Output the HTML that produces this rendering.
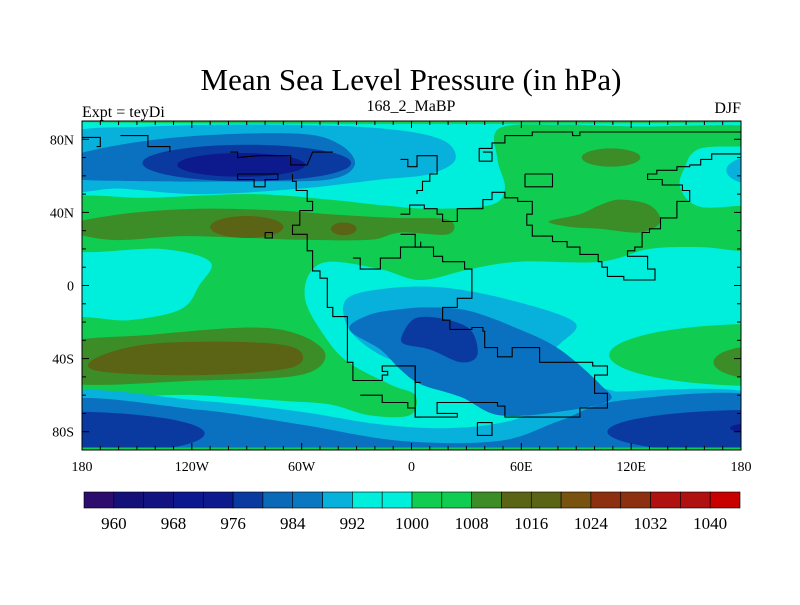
<!DOCTYPE html>
<html><head><meta charset="utf-8">
<style>
html,body{margin:0;padding:0;background:#fff;}
body{width:800px;height:600px;overflow:hidden;font-family:"Liberation Serif",serif;}
svg text{font-family:"Liberation Serif",serif;fill:#000;}
</style></head>
<body>
<svg id="chart" width="800" height="600" viewBox="0 0 800 600" xmlns="http://www.w3.org/2000/svg">
<text x="411" y="90" font-size="31" text-anchor="middle">Mean Sea Level Pressure (in hPa)</text>
<text x="82" y="117" font-size="16">Expt = teyDi</text>
<text x="411" y="111" font-size="16" text-anchor="middle">168_2_MaBP</text>
<text x="741" y="113" font-size="16" text-anchor="end">DJF</text>
<defs><clipPath id="pc"><rect x="82" y="121" width="659" height="329"/></clipPath></defs>
<g id="fields" clip-path="url(#pc)"></g>
<g id="coast" clip-path="url(#pc)"></g>
<rect x="82" y="121" width="659" height="329" fill="none" stroke="#000" stroke-width="1"/>
<g id="axes"></g>
<g id="cbar"></g>
</svg>
<script>
// axis ranges
const lonMin=-180, lonMax=180, latMin=-90, latMax=90;
const xTickVals=[-180,-120,-60,0,60,120,180];
const xTickLabels=['180','120W','60W','0','60E','120E','180'];
const yTickVals=[80,40,0,-40,-80];
const yTickLabels=['80N','40N','0','40S','80S'];
// colorbar
const cbLevels=[960,964,968,972,976,980,984,988,992,996,1000,1004,1008,1012,1016,1020,1024,1028,1032,1036,1040];
const cbColors=['#2c0c6c','#14107a','#121280','#0c1890','#0c1a8e','#0a3aa0','#0a6ab8','#0a78c0','#08b0dc','#00eedc','#00eedc','#10cc50','#10cc50','#3c8c28','#5a6414','#5a6414','#7a5210','#8c3010','#8c3010','#b01010','#b01010','#c80000'];
const cbLabelVals=[960,968,976,984,992,1000,1008,1016,1024,1032,1040];
// contour regions (lon,lat polygons), fill bands
const fieldBase='#00eedc';
const greenRegions=[
 [[-190,47],[-143,48],[-88,50],[-45,47],[-17,44],[10,42],[43,44],[51,53],[47,69],[48,86],[81,88],[125,87],[190,87],[190,77],[158,75],[149,64],[147,53],[158,43],[190,42],[190,20],[158,21],[130,20],[103,13],[59,13],[32,9],[5,3],[-17,9],[-45,13],[-56,6],[-58,-8],[-50,-24],[-36,-41],[-12,-54],[2,-60],[-1,-71],[-23,-71],[-45,-65],[-72,-63],[-116,-60],[-190,-57],[-190,-20],[-154,-19],[-126,-13],[-116,0],[-110,13],[-137,20],[-190,20]]
];
const greenEllipses=[[190,-38,82,17],[0,90,200,1.5]];
const oliveRegions=[
 [[-190,32],[-159,39],[-116,42],[-72,41],[-45,39],[-10,37],[20,36],[20,28],[-6,29],[-23,25],[-61,25],[-88,26],[-126,27],[-165,25]],
 [[75,35],[92,39],[103,44],[114,47],[130,44],[136,35],[125,29],[103,31],[87,32]],
 [[-190,-32],[-143,-27],[-88,-23],[-61,-27],[-47,-38],[-61,-49],[-116,-52],[-190,-53]]
];
const oliveEllipses=[[109,70,16,5],[190,-42,25,9]];
const brownRegions=[[[-173,-40],[-143,-32],[-88,-31],[-62,-35],[-66,-45],[-116,-49],[-170,-47]]];
const brownEllipses=[[-90,32,20,6],[-37,31,7,3.5]];
const blue1Regions=[
 [[-190,82],[-143,87],[-72,88],[-17,86],[16,80],[24,69],[10,61],[-17,58],[-61,53],[-116,50],[-159,53],[-190,53]],
 [[-190,-59],[-116,-63],[-61,-69],[-17,-76],[21,-78],[54,-74],[81,-63],[114,-58],[190,-60],[190,-95],[-190,-95]],
 [[-36,-8],[-17,-2],[16,-1],[54,-8],[89,-20],[81,-32],[70,-41],[98,-54],[114,-60],[81,-65],[59,-63],[32,-50],[5,-45],[-17,-38],[-34,-24]]
];
const blue1Ellipses=[[190,63,18,8]];
const blue2Regions=[
 [[-190,69],[-159,77],[-116,82],[-61,83],[-39,77],[-31,66],[-45,58],[-88,57],[-143,57],[-190,59]],
 [[-34,-24],[-23,-16],[-6,-13],[10,-12],[32,-14],[59,-24],[81,-35],[103,-54],[108,-63],[81,-69],[48,-71],[27,-61],[5,-54],[-6,-46],[-17,-35]],
 [[-190,-63],[-116,-68],[-61,-76],[-6,-85],[48,-85],[81,-74],[114,-63],[190,-61],[190,-95],[-190,-95]]
];
const blue2Ellipses=[];
const blue3Regions=[[[-5,-27],[2,-18],[16,-18],[32,-24],[36,-38],[27,-42],[10,-35],[-4,-32]]];
const blue3Ellipses=[[-90,67,57,10],[-190,-81,77,12],[190,-80,83,12]];
const blue4Ellipses=[[-93,66,35,6.5],[190,-78,16,3],[-190,-79,8,2]];
const bandColors={green:'#10cc50',olive:'#3c8c28',brown:'#5a6414',b1:'#08b0dc',b2:'#0a70c0',b3:'#0a3aa0',b4:'#0c1a8e'};
// coastlines (lon,lat)
const coastLines=[
 [[-99,73],[-95,73],[-95,70],[-84,71],[-66,71],[-66,66],[-57,66],[-54,73],[-43,73]],
 [[-65,61],[-65,57],[-63,57],[-63,52],[-57,52],[-57,46],[-54,46],[-54,41],[-61,41],[-61,33],[-65,33],[-65,28],[-57,28],[-57,19],[-54,19],[-54,8],[-50,8],[-50,4],[-46,4],[-46,-12],[-43,-12],[-43,-17],[-35,-17],[-35,-42],[-32,-42],[-32,-52],[-16,-52],[-16,-49],[-13,-49],[-13,-47],[-16,-47],[-16,-44],[2,-44],[2,-53],[5,-53]],
 [[-28,-60],[-16,-60],[-16,-64],[-2,-64],[-2,-67],[2,-67],[2,-72],[5,-72]],
 [[33,3],[33,-7],[25,-7],[25,-12],[17,-12],[17,-19],[21,-19],[21,-24],[33,-24],[33,-23],[39,-23],[39,-25],[40,-25],[40,-34],[47,-34],[47,-39],[55,-39],[55,-34],[70,-34],[70,-42],[99,-42],[99,-44],[107,-44],[107,-49],[100,-49],[100,-59],[107,-59],[107,-67],[92,-67],[92,-72],[51,-72],[51,-66],[47,-66],[47,-64],[17,-64],[14,-64],[14,-70],[25,-70],[25,-72],[2,-72],[2,-44],[-6,-44]],
 [[36,-75],[44,-75],[44,-82],[36,-82],[36,-75]],
 [[-6,39],[-1,39],[-1,44],[7,44],[7,42],[14,42],[14,39],[17,39],[17,35],[25,35],[25,42],[39,42],[39,47],[44,47],[44,51],[51,51],[51,48],[58,48],[58,46],[66,46],[66,39],[63,39],[63,33],[66,33],[66,27],[77,27],[77,24],[85,24],[85,21],[92,21],[92,17],[102,17],[102,13],[104,13],[104,10],[107,10],[107,5],[116,5],[116,3],[133,3],[133,9],[129,9],[129,16],[118,16],[118,19],[122,19],[122,21],[126,21],[126,29],[130,29],[130,31],[136,31],[136,37],[145,37],[145,46],[152,46],[152,52],[148,52],[148,55],[137,55],[137,58],[129,58],[129,61],[134,61],[134,63],[145,63],[145,65],[152,65],[152,66],[158,66],[158,69],[164,69],[164,72],[180,72],[180,84],[92,84],[92,82],[88,82],[88,84],[66,84],[66,82],[51,82],[51,78],[44,78],[44,75],[37,75],[37,68],[44,68],[44,73],[39,73]],
 [[62,61],[77,61],[77,54],[62,54],[62,61]],
 [[-6,69],[-2,69],[-2,65],[3,65],[3,71],[14,71],[14,61],[10,61],[10,57],[6,57],[6,52],[3,52],[3,50]],
 [[-32,15],[-28,15],[-28,9],[-17,9],[-17,15],[-6,15],[-6,21],[5,21],[5,24]],
 [[-6,28],[2,28],[2,21],[12,21],[12,16],[17,16],[17,13],[29,13],[29,9],[33,9],[33,3]],
 [[-95,61],[-73,61],[-73,58],[-80,58],[-80,54],[-86,54],[-86,58],[-95,58],[-95,61]],
 [[-180,81],[-170,81],[-170,76],[-172,76]],
 [[-159,82],[-144,82],[-144,76],[-132,76],[-132,73]],
 [[-80,29],[-76,29],[-76,26],[-80,26],[-80,29]]
];

const PX0=82,PX1=741,PY0=121,PY1=450;
const X=lon=>PX0+(lon-lonMin)/(lonMax-lonMin)*(PX1-PX0);
const Y=lat=>PY0+(latMax-lat)/(latMax-latMin)*(PY1-PY0);
const NS='http://www.w3.org/2000/svg';
function mk(tag,attrs,parent){const e=document.createElementNS(NS,tag);for(const k in attrs)e.setAttribute(k,attrs[k]);parent.appendChild(e);return e;}
function smoothPath(pts){
 const p=pts.map(q=>[X(q[0]),Y(q[1])]);const n=p.length;let d='M'+p[0][0].toFixed(1)+','+p[0][1].toFixed(1);
 for(let i=0;i<n;i++){const p0=p[(i-1+n)%n],p1=p[i],p2=p[(i+1)%n],p3=p[(i+2)%n];
  const c1=[p1[0]+(p2[0]-p0[0])/6,p1[1]+(p2[1]-p0[1])/6],c2=[p2[0]-(p3[0]-p1[0])/6,p2[1]-(p3[1]-p1[1])/6];
  d+='C'+c1[0].toFixed(1)+','+c1[1].toFixed(1)+' '+c2[0].toFixed(1)+','+c2[1].toFixed(1)+' '+p2[0].toFixed(1)+','+p2[1].toFixed(1);}
 return d+'Z';}
const fg=document.getElementById('fields');
const base=mk('rect',{x:PX0,y:PY0,width:PX1-PX0,height:PY1-PY0,fill:fieldBase},fg);


function band(regions,ellipses,color,name){
 regions.forEach(r=>{const e=mk('path',{d:smoothPath(r),fill:color},fg);
  
  });
 ellipses.forEach(el=>{const e=mk('ellipse',{cx:X(el[0]),cy:Y(el[1]),rx:Math.abs(X(el[2])-X(0)),ry:Math.abs(Y(el[3])-Y(0)),fill:color},fg);
  
  });
}
band(greenRegions,greenEllipses,bandColors.green,'green-band');
band(oliveRegions,oliveEllipses,bandColors.olive,'olive-band');
band(brownRegions,brownEllipses,bandColors.brown,'brown-band');
band(blue1Regions,blue1Ellipses,bandColors.b1,'light-blue-band');
band(blue2Regions,blue2Ellipses,bandColors.b2,'mid-blue-band');
band(blue3Regions,blue3Ellipses,bandColors.b3,'dark-blue-band');
band([],blue4Ellipses,bandColors.b4,'darkest-blue-band');
const bs=mk('rect',{x:PX0,y:PY1-2.5,width:PX1-PX0,height:2.5,fill:bandColors.green},fg);



const cg=document.getElementById('coast');
coastLines.forEach(l=>{const e=mk('polyline',{points:l.map(q=>X(q[0]).toFixed(1)+','+Y(q[1]).toFixed(1)).join(' '),fill:'none',stroke:'#000','stroke-width':1.1},cg);
 
 });

const ag=document.getElementById('axes');
for(let lon=-170;lon<180;lon+=10){const major=lon%60===0;const L=major?7:4;
 const t1=mk('line',{x1:X(lon),x2:X(lon),y1:PY1,y2:PY1-L,stroke:'#000'},ag);
 
 
 const t2=mk('line',{x1:X(lon),x2:X(lon),y1:PY0,y2:PY0+L,stroke:'#000'},ag);
 
 }
for(let lat=-80;lat<90;lat+=10){const major=lat%40===0;const L=major?7:4;
 const t1=mk('line',{x1:PX0,x2:PX0+L,y1:Y(lat),y2:Y(lat),stroke:'#000'},ag);
 
 
 const t2=mk('line',{x1:PX1,x2:PX1-L,y1:Y(lat),y2:Y(lat),stroke:'#000'},ag);
 
 }
xTickVals.forEach((v,i)=>{const t=mk('text',{x:X(v),y:471,'font-size':14,'text-anchor':'middle'},ag);t.textContent=xTickLabels[i];
 
 });
yTickVals.forEach((v,i)=>{const t=mk('text',{x:74,y:Y(v)+5,'font-size':14,'text-anchor':'end'},ag);t.textContent=yTickLabels[i];
 
 });

const cb=document.getElementById('cbar');
const CX0=84,CX1=740,CY=492,CH=16;const bw=(CX1-CX0)/cbColors.length;
cbColors.forEach((c,i)=>{const r=mk('rect',{x:CX0+i*bw,y:CY,width:bw,height:CH,fill:c,stroke:'#000','stroke-width':0.6},cb);
 
 });
cbLabelVals.forEach(v=>{const idx=cbLevels.indexOf(v)+1;const t=mk('text',{x:CX0+idx*bw,y:529,'font-size':17,'text-anchor':'middle'},cb);t.textContent=v;
 
 });
</script>
</body></html>
